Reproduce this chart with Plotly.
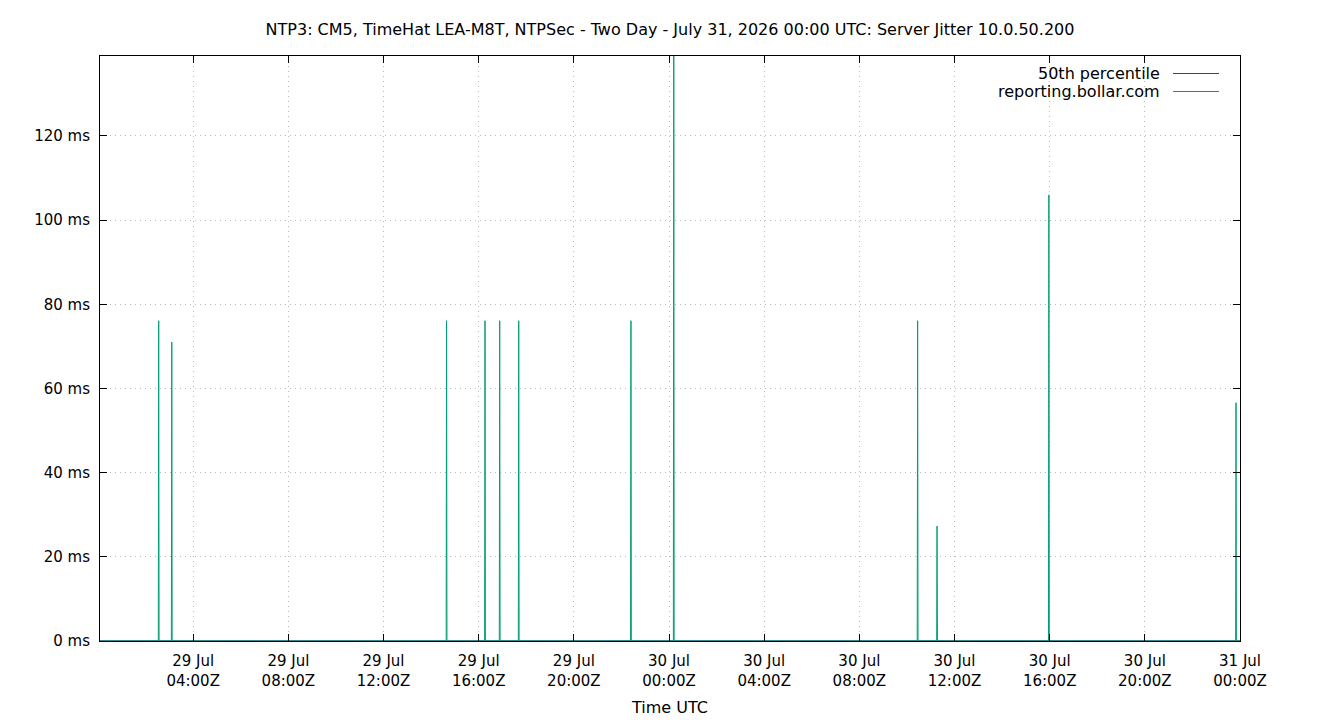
import plotly.graph_objects as go

# ---- data ----
jitter_times = [
    "2026-07-29 00:05",
    "2026-07-29 02:32", "2026-07-29 02:33", "2026-07-29 02:34",
    "2026-07-29 03:05", "2026-07-29 03:06", "2026-07-29 03:07",
    "2026-07-29 14:38", "2026-07-29 14:39", "2026-07-29 14:40",
    "2026-07-29 16:15", "2026-07-29 16:16", "2026-07-29 16:17",
    "2026-07-29 16:52", "2026-07-29 16:53", "2026-07-29 16:54",
    "2026-07-29 17:40", "2026-07-29 17:41", "2026-07-29 17:42",
    "2026-07-29 22:23", "2026-07-29 22:24", "2026-07-29 22:25",
    "2026-07-30 00:11", "2026-07-30 00:12", "2026-07-30 00:13",
    "2026-07-30 10:26", "2026-07-30 10:27", "2026-07-30 10:28",
    "2026-07-30 11:15", "2026-07-30 11:16", "2026-07-30 11:17",
    "2026-07-30 15:57", "2026-07-30 15:58", "2026-07-30 15:59",
    "2026-07-30 23:49", "2026-07-30 23:50", "2026-07-30 23:51",
    "2026-07-31 00:00",
]
jitter_ms = [
    0.05,
    0.05, 76.1, 0.05,
    0.05, 71.0, 0.05,
    0.05, 76.1, 0.05,
    0.05, 76.1, 0.05,
    0.05, 76.1, 0.05,
    0.05, 76.1, 0.05,
    0.05, 76.1, 0.05,
    0.05, 160.0, 0.05,
    0.05, 76.1, 0.05,
    0.05, 27.3, 0.05,
    0.05, 106.0, 0.05,
    0.05, 56.6, 0.05,
    0.05,
]
p50_times = ["2026-07-29 00:05", "2026-07-31 00:00"]
p50_ms = [0.04, 0.04]

x_tickvals = [
    "2026-07-29 04:00", "2026-07-29 08:00", "2026-07-29 12:00",
    "2026-07-29 16:00", "2026-07-29 20:00", "2026-07-30 00:00",
    "2026-07-30 04:00", "2026-07-30 08:00", "2026-07-30 12:00",
    "2026-07-30 16:00", "2026-07-30 20:00", "2026-07-31 00:00",
]
x_ticktext = [
    "29 Jul<br>04:00Z", "29 Jul<br>08:00Z", "29 Jul<br>12:00Z",
    "29 Jul<br>16:00Z", "29 Jul<br>20:00Z", "30 Jul<br>00:00Z",
    "30 Jul<br>04:00Z", "30 Jul<br>08:00Z", "30 Jul<br>12:00Z",
    "30 Jul<br>16:00Z", "30 Jul<br>20:00Z", "31 Jul<br>00:00Z",
]
y_tickvals = [0, 20, 40, 60, 80, 100, 120]
y_ticktext = ["0 ms", "20 ms", "40 ms", "60 ms", "80 ms", "100 ms", "120 ms"]

legend_names = ["50th percentile", "reporting.bollar.com"]
colors = ["#9400d3", "#009e73"]

FONT = "DejaVu Sans"
FS = 16
TFS = 15

fig = go.Figure()
fig.add_trace(go.Scatter(x=p50_times, y=p50_ms, mode="lines",
                         line=dict(color=colors[0], width=1),
                         name=legend_names[0], showlegend=False, hoverinfo="skip"))
fig.add_trace(go.Scatter(x=jitter_times, y=jitter_ms, mode="lines",
                         line=dict(color=colors[1], width=1),
                         name=legend_names[1], showlegend=False, hoverinfo="skip"))

W, H = 1340, 720
L, R, T, B = 100, 100, 56, 79
pw, ph = W - L - R, H - T - B

def px_x(x):
    return (x - L) / pw

def px_y(y):
    return (H - B - y) / ph

annotations = []
shapes = []
for i, (nm, c) in enumerate(zip(legend_names, colors)):
    yy = 73.5 + i * 18
    annotations.append(dict(x=px_x(1162), y=px_y(yy), xref="paper", yref="paper",
                            text=nm, showarrow=False, xanchor="right", yanchor="middle",
                            font=dict(family=FONT, size=FS, color="#000000")))
    shapes.append(dict(type="line", xref="paper", yref="paper",
                       x0=px_x(1173), x1=px_x(1219), y0=px_y(yy), y1=px_y(yy),
                       line=dict(color=c, width=1)))

fig.update_layout(
    width=W, height=H,
    margin=dict(l=L, r=R, t=T, b=B, autoexpand=False),
    paper_bgcolor="white", plot_bgcolor="white",
    font=dict(family=FONT, size=TFS, color="#000000"),
    title=dict(text="NTP3: CM5, TimeHat LEA-M8T, NTPSec - Two Day - July 31, 2026 00:00 UTC: Server Jitter 10.0.50.200",
               x=0.5, xanchor="center", y=1 - 29 / H, yanchor="middle",
               font=dict(family=FONT, size=FS, color="#000000")),
    annotations=annotations,
    shapes=shapes,
    showlegend=False,
)
GRID = dict(showgrid=True, gridcolor="#b8b8b8", griddash="1px,4px", gridwidth=1)
fig.update_xaxes(
    type="date", automargin=False,
    range=["2026-07-29 00:05", "2026-07-31 00:00"],
    tickmode="array", tickvals=x_tickvals, ticktext=x_ticktext,
    ticks="inside", ticklen=7, tickcolor="#000000", ticklabelstandoff=6,
    showline=True, linecolor="#000000", linewidth=1, mirror="ticks",
    zeroline=False,
    title=dict(text="Time UTC", standoff=13, font=dict(family=FONT, size=FS)),
    **GRID,
)
fig.update_yaxes(
    range=[0, 139], automargin=False,
    tickmode="array", tickvals=y_tickvals, ticktext=y_ticktext,
    ticks="inside", ticklen=7, tickcolor="#000000", ticklabelstandoff=6,
    showline=True, linecolor="#000000", linewidth=1, mirror="ticks",
    zeroline=False,
    **GRID,
)

fig.write_html("out.html")
